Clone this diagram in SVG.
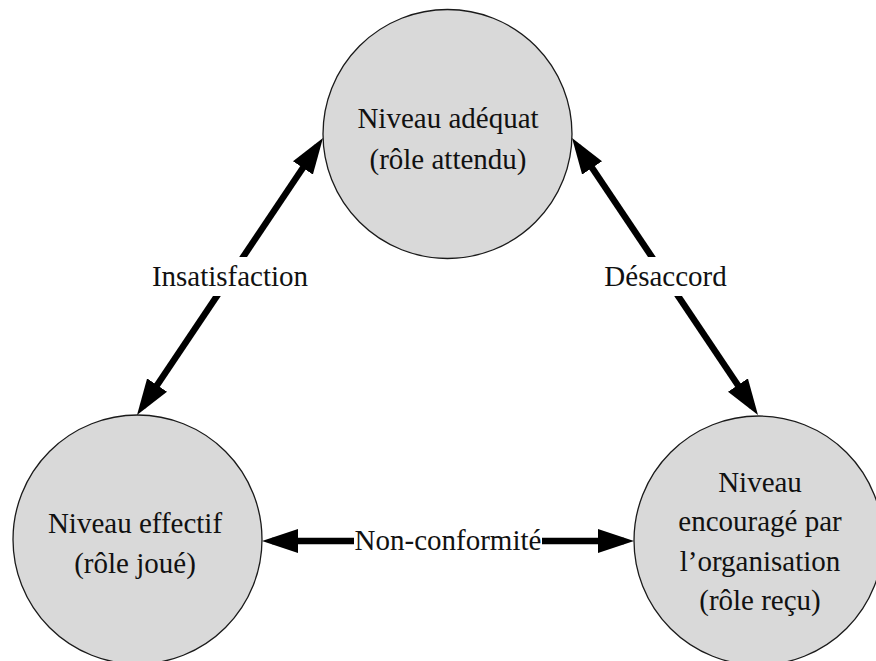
<svg xmlns="http://www.w3.org/2000/svg" width="876" height="661" viewBox="0 0 876 661">
  <style>
    .node circle { fill: #d9d9d9; stroke: #1a1a1a; stroke-width: 1.3; }
    .t { font-size: 29px; fill: #111; text-anchor: middle; }
    .conn line { stroke: #000; stroke-width: 6.5; marker-start: url(#ah); marker-end: url(#ah); }
    .bg { fill: #fff; }
  </style>
  <defs>
    <marker id="ah" markerUnits="userSpaceOnUse" markerWidth="36" markerHeight="24" refX="26" refY="12" orient="auto-start-reverse" viewBox="0 0 36 24">
      <path d="M0,0 L36,12 L0,24 z" fill="#000"/>
    </marker>
  </defs>
  <rect width="876" height="661" fill="#fff"/>
  <g font-family="'Liberation Serif', 'Times New Roman', 'DejaVu Serif', serif">
  <g id="n-adequat" class="node">
    <circle cx="447.5" cy="134" r="124.5"/>
    <text class="t" x="448" y="128">Niveau adéquat</text>
    <text class="t" x="448" y="169">(rôle attendu)</text>
  </g>
  <g id="n-effectif" class="node">
    <circle cx="137.5" cy="539.5" r="124.5"/>
    <text class="t" x="135" y="533">Niveau effectif</text>
    <text class="t" x="135" y="573">(rôle joué)</text>
  </g>
  <g id="n-encourage" class="node">
    <circle cx="758.5" cy="540.5" r="124.5"/>
    <text class="t" x="760" y="492">Niveau</text>
    <text class="t" x="760" y="531">encouragé par</text>
    <text class="t" x="760" y="571">l’organisation</text>
    <text class="t" x="760" y="610">(rôle reçu)</text>
  </g>
  <g id="connectors" class="conn">
    <line x1="317.4" y1="146.3" x2="142.6" y2="406.7"/>
    <line x1="577.6" y1="146.3" x2="752.4" y2="406.7"/>
    <line x1="272" y1="541" x2="624" y2="541"/>
    <rect class="bg" x="150" y="257" width="160" height="39"/>
    <text class="t" x="230" y="286">Insatisfaction</text>
    <rect class="bg" x="600" y="257" width="131" height="39"/>
    <text class="t" x="665.5" y="286">Désaccord</text>
    <rect class="bg" x="354" y="527" width="188" height="29"/>
    <text class="t" x="448" y="550">Non-conformité</text>
  </g>
  </g>
</svg>
